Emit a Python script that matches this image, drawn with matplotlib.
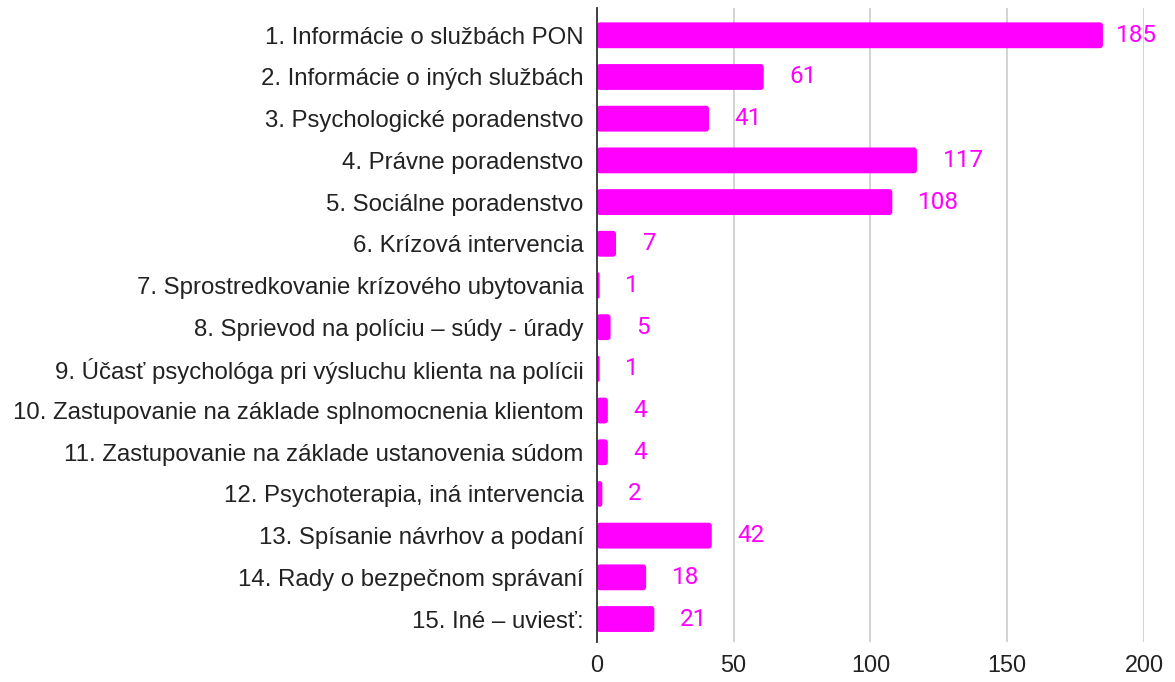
import matplotlib
matplotlib.use("Agg")
import matplotlib.pyplot as plt
from matplotlib.patches import FancyBboxPatch

categories = [
    "1. Informácie o službách PON",
    "2. Informácie o iných službách",
    "3. Psychologické poradenstvo",
    "4. Právne poradenstvo",
    "5. Sociálne poradenstvo",
    "6. Krízová intervencia",
    "7. Sprostredkovanie krízového ubytovania",
    "8. Sprievod na políciu – súdy - úrady",
    "9. Účasť psychológa pri výsluchu klienta na polícii",
    "10. Zastupovanie na základe splnomocnenia klientom",
    "11. Zastupovanie na základe ustanovenia súdom",
    "12. Psychoterapia, iná intervencia",
    "13. Spísanie návrhov a podaní",
    "14. Rady o bezpečnom správaní",
    "15. Iné – uviesť:",
]
values = [185, 61, 41, 117, 108, 7, 1, 5, 1, 4, 4, 2, 42, 18, 21]
xticks = [0, 50, 100, 150, 200]

color = "#FF00FF"
fig = plt.figure(figsize=(11.75, 6.82), dpi=100)
ax = fig.add_axes([0.508, 0.0587, 0.9736 - 0.508, 0.988 - 0.0587])

y = list(range(len(categories)))
bh = 0.62
ax.set_xlim(0, 200)
ax.set_ylim(len(categories) - 0.45, -0.65)

# pixel scale for rounded corners
fig.canvas.draw()
bbox = ax.get_window_extent()
xpp = 200 / bbox.width
ypp = (len(categories) - 0.45 + 0.65) / bbox.height
aspect = ypp / xpp

for yi, v in zip(y, values):
    r = min(3.0 * xpp, v / 2.0)
    p = FancyBboxPatch((0, yi - bh / 2), v, bh,
                       boxstyle=f"round,pad=0,rounding_size={r}",
                       mutation_aspect=aspect, facecolor=color,
                       edgecolor="none", zorder=3)
    ax.add_patch(p)

ax.set_yticks(y)
ax.set_yticklabels(categories, fontfamily="Liberation Sans", fontsize=17.3, color="#222222")
ax.set_xticks(xticks)
ax.set_xticklabels([str(t) for t in xticks], fontfamily="Liberation Sans", fontsize=16.8, color="#222222")
ax.tick_params(axis="x", length=0, pad=9)
ax.tick_params(axis="y", length=0, pad=9.5)
ax.grid(axis="x", color="#cccccc", linewidth=1.2, zorder=0)
for s in ["top", "right", "bottom"]:
    ax.spines[s].set_visible(False)
ax.spines["left"].set_color("#333333")
ax.spines["left"].set_linewidth(1.3)
ax.spines["left"].set_zorder(4)

for yi, v in zip(y, values):
    off = 18.5 if v < 180 else 9.5
    ax.annotate(str(v), (v, yi), xytext=(off, 0), textcoords="offset points",
                va="center", ha="left", fontfamily="Roboto", fontsize=17.5, color=color,
                annotation_clip=False)

fig.savefig("out.png", dpi=100)
